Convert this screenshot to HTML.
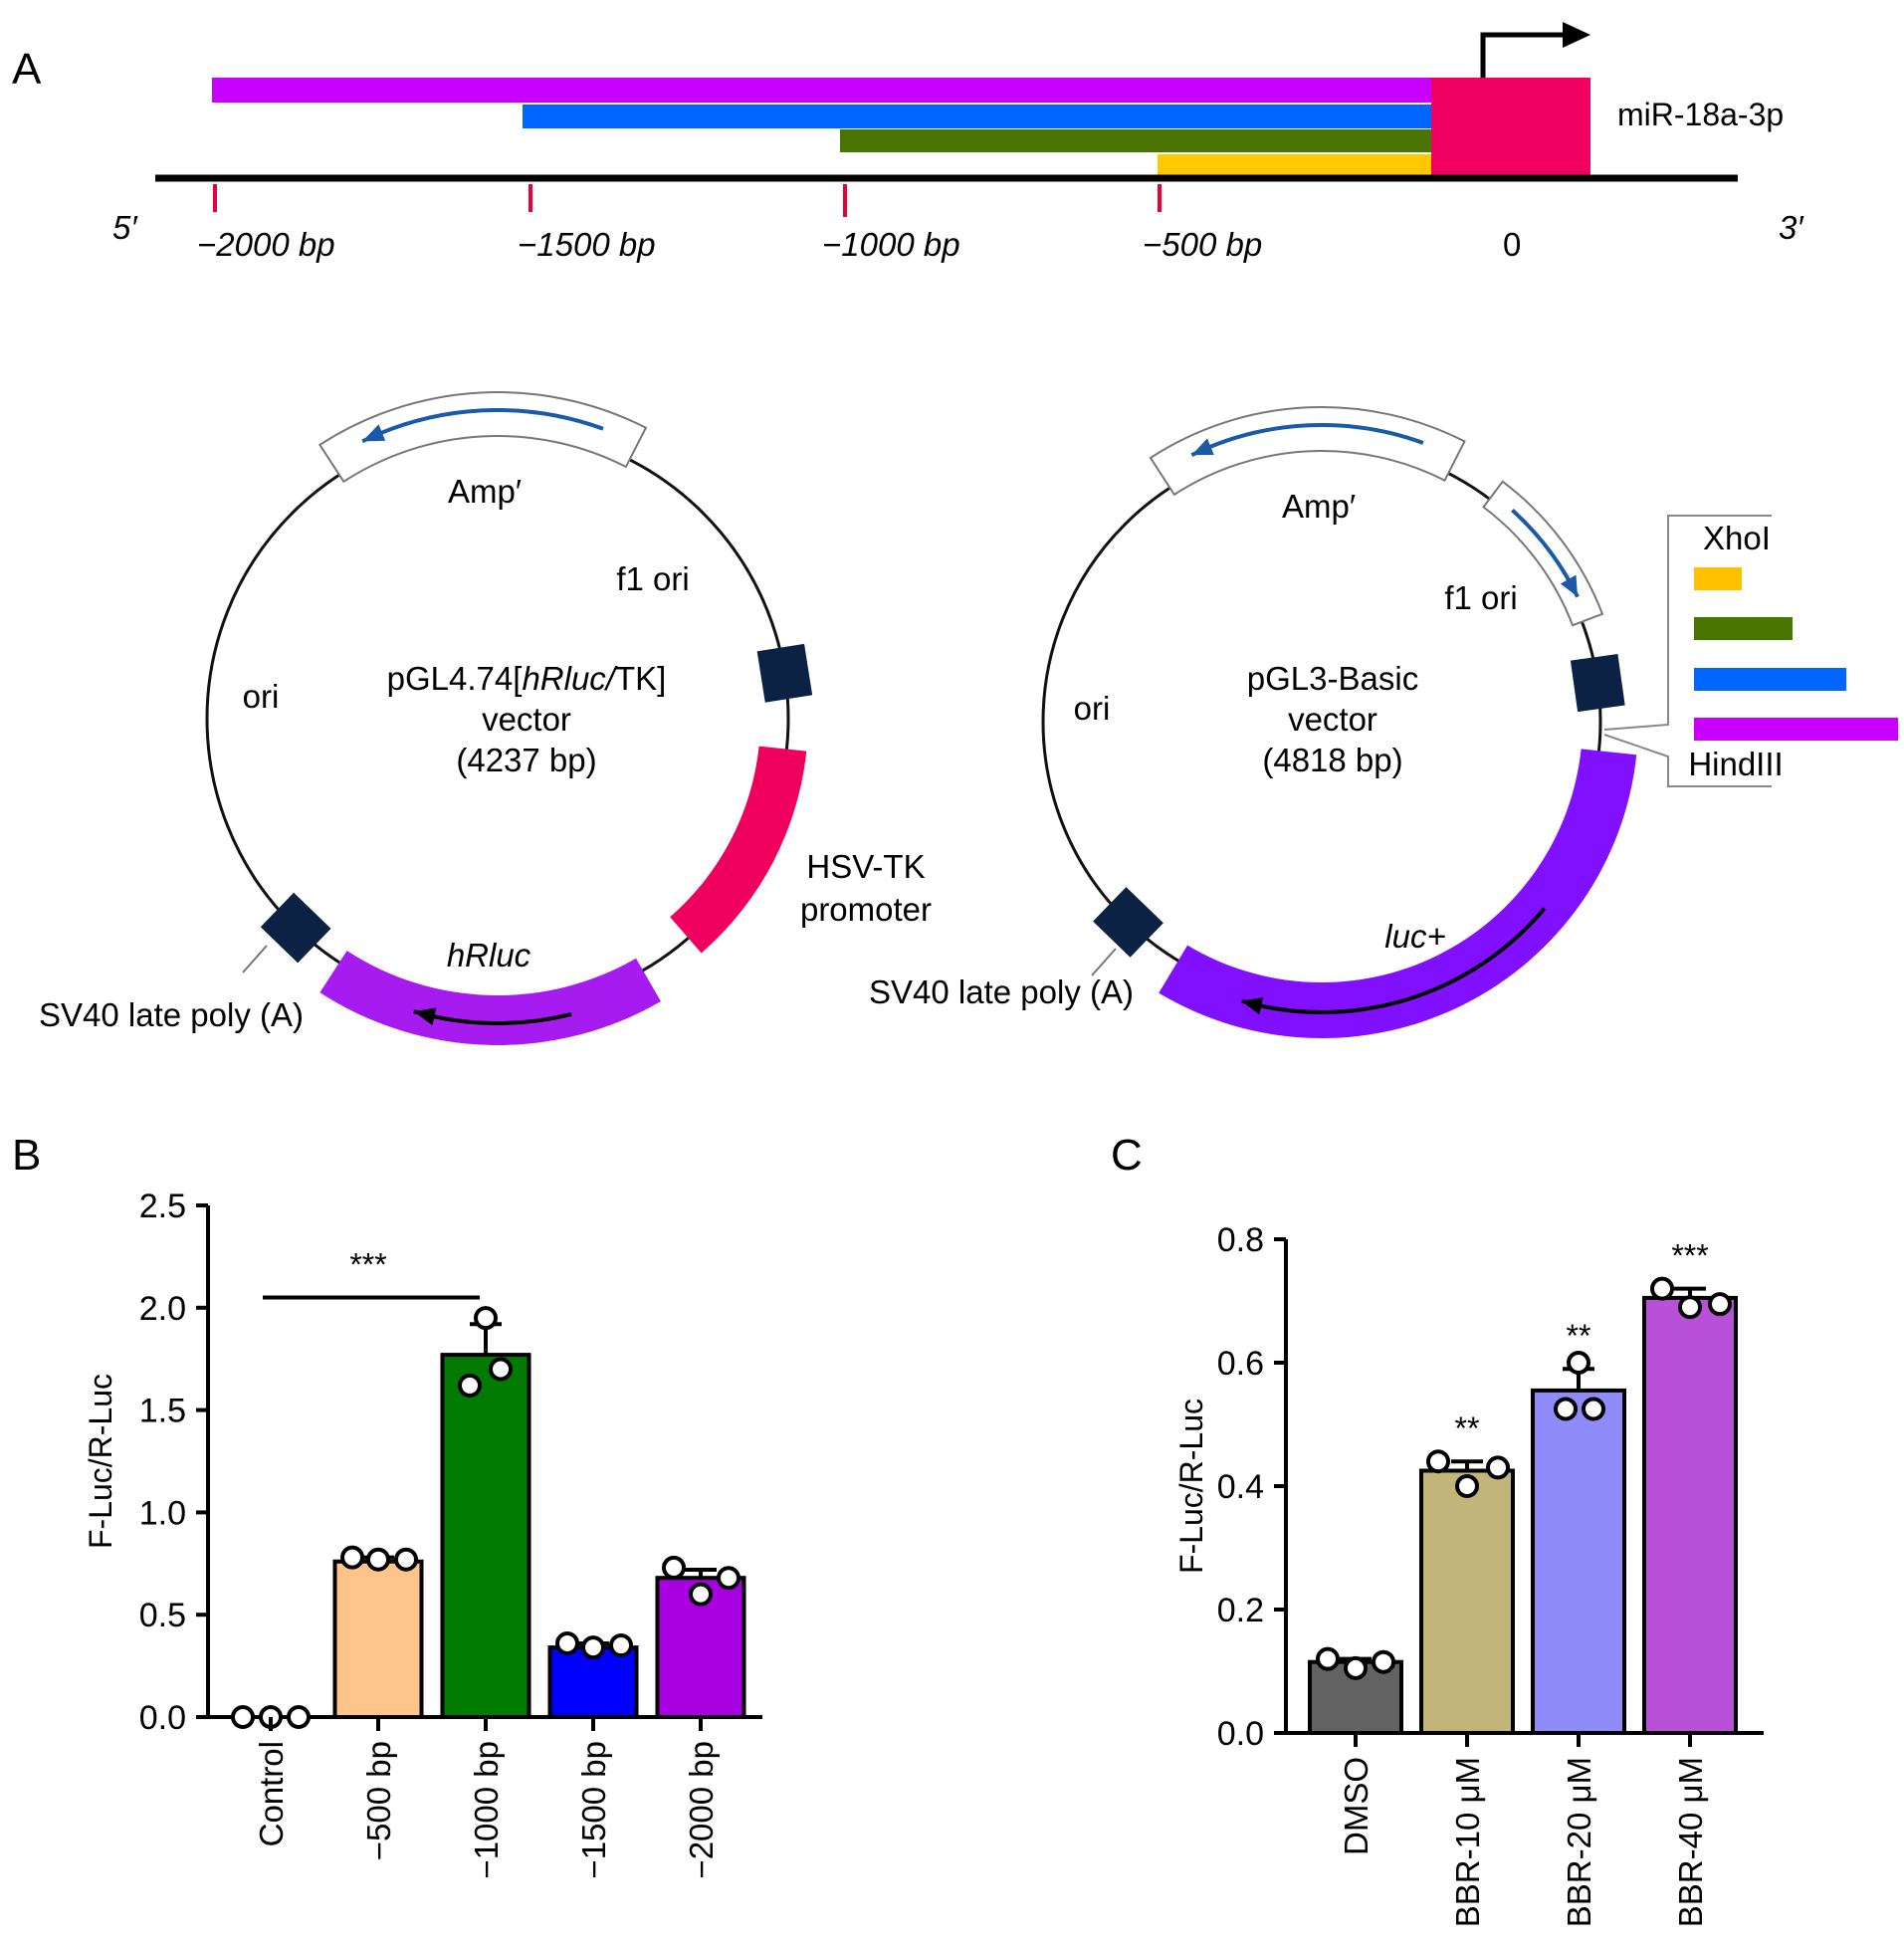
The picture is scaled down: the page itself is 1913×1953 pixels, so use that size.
<!DOCTYPE html>
<html><head><meta charset="utf-8"><style>
body{margin:0;background:#fff}
svg{display:block;font-family:"Liberation Sans",Arial,sans-serif}
</style></head><body>
<svg id="fig" width="1913" height="1953" viewBox="0 0 1913 1953" xmlns="http://www.w3.org/2000/svg">
<g id="panelA">
<text x="12" y="84" font-size="44">A</text>
<rect x="213" y="78" width="1225" height="25" fill="#c800ff"/>
<rect x="525" y="105" width="913" height="24" fill="#0066ff"/>
<rect x="844" y="130" width="594" height="23" fill="#4a7400"/>
<rect x="1163" y="155" width="275" height="24" fill="#ffc800"/>
<rect x="1438" y="78" width="160" height="101" fill="#f00060"/>
<line x1="156" y1="179" x2="1746" y2="179" stroke="#000" stroke-width="7"/>
<polyline points="1490,78 1490,35 1575,35" fill="none" stroke="#000" stroke-width="5"/>
<polygon points="1570,22 1598,35 1570,48" fill="#000"/>
<text x="1625" y="126" font-size="32">miR-18a-3p</text>
<g stroke="#e8003a" stroke-width="4">
<line x1="216" y1="185" x2="216" y2="213"/><line x1="533" y1="185" x2="533" y2="213"/><line x1="849" y1="185" x2="849" y2="218"/><line x1="1165" y1="185" x2="1165" y2="213"/></g>
<g font-size="33" font-style="italic">
<text x="113" y="240">5′</text><text x="198" y="257">−2000 bp</text><text x="520" y="257">−1500 bp</text><text x="826" y="257">−1000 bp</text><text x="1148" y="257">−500 bp</text><text x="1787" y="240">3′</text></g>
<text x="1510" y="257" font-size="33">0</text>
</g>
<g id="plasmids"></g>
<g id="chartB"></g>
<g id="chartC"></g>
</svg>
<script>
// ---- Chart B data ----
const bCategories = ["Control","\u2212500 bp","\u22121000 bp","\u22121500 bp","\u22122000 bp"];
const bMeans = [0.0, 0.76, 1.77, 0.34, 0.68];
const bErrTop = [0.0, 0.78, 1.92, 0.36, 0.72];
const bPoints = [[0,0,0],[0.78,0.77,0.77],[1.62,1.95,1.70],[0.36,0.34,0.35],[0.73,0.60,0.68]];
const bColors = ["#ffffff","#ffc48a","#007a00","#0000ff","#a800e0"];
const bTicks = [0,0.5,1.0,1.5,2.0,2.5];
const bTickLabels = ["0.0","0.5","1.0","1.5","2.0","2.5"];
// ---- Chart C data ----
const cCategories = ["DMSO","BBR-10 \u03bcM","BBR-20 \u03bcM","BBR-40 \u03bcM"];
const cMeans = [0.115, 0.425, 0.555, 0.705];
const cErrTop = [0.12, 0.44, 0.59, 0.72];
const cPoints = [[0.12,0.105,0.115],[0.44,0.40,0.43],[0.525,0.60,0.525],[0.72,0.69,0.695]];
const cColors = ["#626262","#c2b57a","#8f8cfa","#b850d8"];
const cStars = ["","**","**","***"];
const cTicks = [0,0.2,0.4,0.6,0.8];
const cTickLabels = ["0.0","0.2","0.4","0.6","0.8"];

const NS="http://www.w3.org/2000/svg";
function mk(parent,tag,attrs,text){const e=document.createElementNS(NS,tag);for(const k in attrs)e.setAttribute(k,attrs[k]);if(text!==undefined)e.textContent=text;parent.appendChild(e);return e;}

function drawChart(g,o){
  const y=v=>o.y0-(v-o.vmin)/(o.vmax-o.vmin)*(o.y0-o.y1);
  const x=i=>o.xFirst+i*o.step;
  const yl=mk(g,'line',{x1:o.ax,y1:o.y1,x2:o.ax,y2:o.y0,stroke:'#000','stroke-width':4});
  
  
  const xl=mk(g,'line',{x1:o.ax-12,y1:o.y0,x2:o.xEnd,y2:o.y0,stroke:'#000','stroke-width':4});
  
  
  o.ticks.forEach((t,i)=>{
    const tk=mk(g,'line',{x1:o.ax-12,y1:y(t),x2:o.ax,y2:y(t),stroke:'#000','stroke-width':4});
    
    
    const tl=mk(g,'text',{x:o.ax-22,y:y(t)+12,'font-size':34,'text-anchor':'end'},o.tickLabels[i]);
    
    
  });
  const yt=mk(g,'text',{x:0,y:0,'font-size':32,'text-anchor':'middle',transform:`translate(${o.titleX},${(o.y0+o.y1)/2}) rotate(-90)`},'F-Luc/R-Luc');
  
  
  o.cats.forEach((c,i)=>{
    const cx=x(i);
    if(o.means[i]>0){
      const b=mk(g,'rect',{x:cx-o.bw/2,y:y(o.means[i]),width:o.bw,height:y(0)-y(o.means[i]),fill:o.colors[i],stroke:'#000','stroke-width':4});
      
      
    }
    const e=mk(g,'path',{d:`M${cx},${y(o.means[i])}V${y(o.err[i])}M${cx-16},${y(o.err[i])}H${cx+16}`,stroke:'#000','stroke-width':4,fill:'none'});
    
    
    const offs=o.offsets[i];
    o.pts[i].forEach((p,j)=>{
      const d=mk(g,'circle',{cx:cx+offs[j],cy:y(p),r:10,fill:'#fff',stroke:'#000','stroke-width':4});
      
      
    });
    const xt=mk(g,'line',{x1:cx,y1:o.y0,x2:cx,y2:o.y0+14,stroke:'#000','stroke-width':4});
    
    
    const lbl=mk(g,'text',{x:0,y:0,'font-size':33,'text-anchor':'end',transform:`translate(${cx+12},${o.y0+24}) rotate(-90)`},c);
    
    
    if(o.stars&&o.stars[i]){
      const s=mk(g,'text',{x:cx,y:y(o.err[i])-22,'font-size':32,'text-anchor':'middle'},o.stars[i]);
      
      
    }
  });
  return {x,y};
}

const gB=document.getElementById('chartB');
mk(gB,'text',{x:12,y:1175,'font-size':44},'B');
const sb=drawChart(gB,{y0:1725,y1:1211,vmin:0,vmax:2.5,ax:209,xEnd:766,xFirst:272,step:108,bw:87,
 cats:bCategories,means:bMeans,err:bErrTop,pts:bPoints,colors:bColors,ticks:bTicks,tickLabels:bTickLabels,titleX:112,
 offsets:[[-28,0,28],[-26,0,28],[-16,0,15],[-26,0,28],[-27,0,28]]});
const sigLine=mk(gB,'line',{x1:sb.x(0)-8,y1:sb.y(2.05),x2:sb.x(2)-6,y2:sb.y(2.05),stroke:'#000','stroke-width':4});


const sigT=mk(gB,'text',{x:(sb.x(0)+sb.x(2))/2-10,y:sb.y(2.05)-22,'font-size':32,'text-anchor':'middle'},'***');



const gC=document.getElementById('chartC');
mk(gC,'text',{x:1116,y:1175,'font-size':44},'C');
drawChart(gC,{y0:1741,y1:1245,vmin:0,vmax:0.8,ax:1292,xEnd:1772,xFirst:1362,step:112,bw:92,
 cats:cCategories,means:cMeans,err:cErrTop,pts:cPoints,colors:cColors,ticks:cTicks,tickLabels:cTickLabels,titleX:1208,stars:cStars,
 offsets:[[-28,0,28],[-29,0,31],[-13,0,15],[-28,0,30]]});

// ---- Plasmid maps ----
const gP=document.getElementById('plasmids');
function pt(cx,cy,r,a){const t=a*Math.PI/180;return [cx+r*Math.sin(t),cy-r*Math.cos(t)];}
function band(cx,cy,ri,ro,a1,a2,fill,stroke,name){
  const p1=pt(cx,cy,ro,a1),p2=pt(cx,cy,ro,a2),p3=pt(cx,cy,ri,a2),p4=pt(cx,cy,ri,a1);
  const lg=(a2-a1)>180?1:0;
  const e=mk(gP,'path',{d:`M${p1}A${ro},${ro} 0 ${lg} 1 ${p2}L${p3}A${ri},${ri} 0 ${lg} 0 ${p4}Z`,fill:fill,stroke:stroke,'stroke-width':2});
  
  
}
function arcArrow(cx,cy,r,a1,a2,color,name){
  const p1=pt(cx,cy,r,a1),p2=pt(cx,cy,r,a2);const sw=a2>a1?1:0;
  const e=mk(gP,'path',{d:`M${p1}A${r},${r} 0 0 ${sw} ${p2}`,fill:'none',stroke:color,'stroke-width':4});
  
  
  const dir=sw?1:-1;const l=pt(cx,cy,r+9,a2-dir*4),rr=pt(cx,cy,r-9,a2-dir*4);
  const h=mk(gP,'polygon',{points:`${p2} ${l} ${rr}`,fill:color});
  
  
}
function plasmid(cx,cy,R,isL){
  const c=mk(gP,'circle',{cx,cy,r:R,fill:'none',stroke:'#111','stroke-width':3});
  
  
  band(cx,cy,R-8,R+36,-33,27,'#fff','#777','amp-gene');
  arcArrow(cx,cy,R+18,20,-26,'#1a5aa8','amp-arrow');
  if(isL){
    band(cx,cy,R-28,R+20,96,139,'#f0005e','none','hsv-tk-promoter');
    band(cx,cy,R-14,R+36,150,213,'#a61cf0','none','hrluc-gene');
    arcArrow(cx,cy,R+14,166,196,'#000','hrluc-arrow');
  } else {
    band(cx,cy,R-10,R+22,37,69,'#fff','#777','f1-ori-box');
    arcArrow(cx,cy,R+6,42,64,'#1a5aa8','f1-arrow');
    band(cx,cy,R-18,R+38,96,211,'#8010ff','none','luc-gene');
    arcArrow(cx,cy,R+12,130,196,'#000','luc-arrow');
  }
  [[isL?81:82],[224]].forEach(a=>{
    const [x,y]=pt(cx,cy,R,a[0]);
    const s=mk(gP,'rect',{x:x-24,y:y-26,width:48,height:52,fill:'#0b2244',transform:`rotate(${a[0]-90} ${x} ${y})`});
    
    
  });
}
plasmid(500,722,292,true);
plasmid(1328,725,280,false);
function T(x,y,s,sz,name,it,anchor){const e=mk(gP,'text',{x,y,'font-size':sz||33,'text-anchor':anchor||'middle','font-style':it?'italic':'normal'},s);return e;}
T(487,505,'Amp′',33,'amp-label');T(656,593,'f1 ori',33,'f1-ori-label');T(262,711,'ori',33,'ori-label');
const t1=T(529,693,'',33,'vector-name');
t1.innerHTML='pGL4.74[<tspan font-style="italic">hRluc/</tspan>TK]';
T(529,734,'vector',33,'vector-label');T(529,775,'(4237 bp)',33,'vector-size');
T(870,882,'HSV-TK',33,'hsv-tk-label');T(870,925,'promoter',33,'promoter-label');
T(491,971,'hRluc',33,'hrluc-label',true);T(172,1031,'SV40 late poly (A)',33,'sv40-label-left');
T(1325,520,'Amp′',33,'amp-label-right');T(1488,612,'f1 ori',33,'f1-ori-label-right');T(1097,723,'ori',33,'ori-label-right');
T(1339,693,'pGL3-Basic',33,'vector-name-right');T(1339,734,'vector',33,'vector-label-right');T(1339,775,'(4818 bp)',33,'vector-size-right');
T(1422,952,'luc+',33,'luc-label',true);T(1006,1008,'SV40 late poly (A)',33,'sv40-label-right');
T(1745,552,'XhoI',33,'xhoi-label');T(1744,779,'HindIII',33,'hindiii-label');
[[244,977,268,950],[1097,980,1121,953]].forEach(l=>{const e=mk(gP,'line',{x1:l[0],y1:l[1],x2:l[2],y2:l[3],stroke:'#777','stroke-width':2});});
const br=mk(gP,'polyline',{points:'1780,518 1676,518 1676,728 1612,733',fill:'none',stroke:'#888','stroke-width':2});

const br2=mk(gP,'polyline',{points:'1612,738 1676,760 1676,790 1780,790',fill:'none',stroke:'#888','stroke-width':2});

[[1702,570,48,'#ffc000'],[1702,620,99,'#4a7400'],[1702,671,153,'#0066ff'],[1702,721,205,'#c800ff']].forEach(b=>{
  const e=mk(gP,'rect',{x:b[0],y:b[1],width:b[2],height:23,fill:b[3]});
  
  
});
</script>
</body></html>
